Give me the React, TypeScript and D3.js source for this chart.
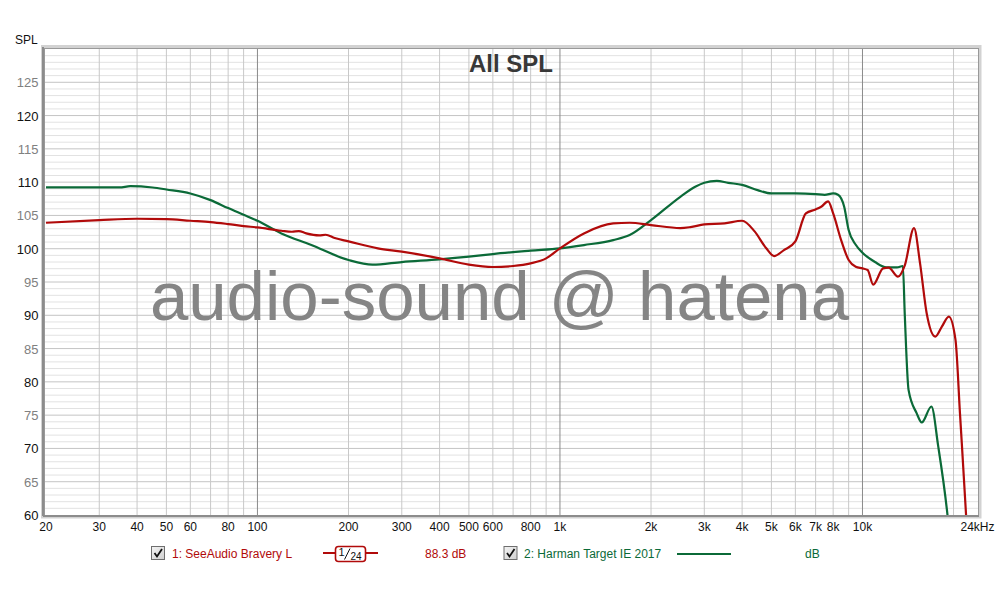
import React from "react";
import * as d3 from "d3";

const redFreq = [20,30,40,50,60,70,80,90,100,120,130,137,145,160,168,180,200,250,300,400,500,600,700,800,900,1000,1200,1500,1700,2000,2500,2700,3000,3500,4000,4400,4800,5100,5500,6000,6500,7000,7300,7700,8000,8500,9000,9500,10000,10400,10850,11700,12200,13100,13800,14800,15500,16300,17400,18300,19300,20300,21000,22000,22300];
const redDb = [103.9,104.3,104.5,104.45,104.2,104.0,103.7,103.4,103.2,102.7,102.55,102.65,102.3,102.0,102.1,101.6,101.1,100.05,99.55,98.55,97.6,97.25,97.4,97.8,98.55,100.05,102.3,103.8,103.9,103.55,103.1,103.25,103.65,103.8,104.2,102.6,100.1,98.9,99.8,101.1,105.3,105.9,106.3,107.1,105.3,101.3,98.3,97.3,97.05,96.8,94.6,97.05,97.15,95.8,97.5,103.1,97.8,90.3,86.8,88.3,89.8,86.3,75.3,60,55];

const greenFreq = [20,35,38,45,50,60,70,80,90,100,120,150,200,240,300,400,500,600,800,1000,1200,1500,1700,2000,2500,2800,3000,3300,3600,4000,4500,5000,6000,7000,7500,8000,8300,8700,9000,9500,10000,11000,12000,13000,13600,13800,14200,15100,15700,16900,17800,19100,19400];
const greenDb = [109.2,109.2,109.4,109.2,108.9,108.3,107.3,106.1,105.1,104.2,102.3,100.6,98.3,97.6,98.0,98.4,98.8,99.2,99.7,100.05,100.55,101.3,102.05,104.3,107.8,109.3,109.9,110.2,109.9,109.6,108.8,108.3,108.3,108.2,108.1,108.3,108.1,106.3,102.8,100.6,99.4,98.0,97.2,97.2,97.4,90,78.8,75.3,73.9,76.3,70.3,60,57];

const xTickValues = [20,30,40,50,60,80,100,200,300,400,500,600,800,1000,2000,3000,4000,5000,6000,7000,8000,10000];
const yTickValues = [60,65,70,75,80,85,90,95,100,105,110,115,120,125];

const RED = "#b10a0a";
const GREEN = "#0b6a38";

export default function App() {
  const L = 45, R = 978, T = 49, B = 515;
  const x = d3.scaleLog().domain([20, 24000]).range([46, 977.5]);
  const y = d3.scaleLinear().domain([60, 130]).range([B, T]);

  const gridX: number[] = [];
  for (let dec = 10; dec <= 10000; dec *= 10) {
    for (let m = 1; m <= 9; m++) {
      const f = dec * m;
      if (f > 20 && f < 24000) gridX.push(f);
    }
  }
  const gridY = d3.range(61, 130, 1);

  const line = d3.line<[number, number]>()
    .x(d => x(d[0]))
    .y(d => y(d[1]))
    .curve(d3.curveMonotoneX);

  const redPts = redFreq.map((f, i) => [f, redDb[i]] as [number, number]);
  const greenPts = greenFreq.map((f, i) => [f, greenDb[i]] as [number, number]);

  const fmt = (v: number) => (v >= 1000 ? `${v / 1000}k` : `${v}`);
  const font = "'Liberation Sans', Arial, sans-serif";

  const Check = ({ cx, cy }: { cx: number; cy: number }) => (
    <g>
      <rect x={cx} y={cy} width={13} height={13} fill="url(#cbg)" stroke="#6e6e6e" strokeWidth={1} />
      <path d={`M${cx + 3} ${cy + 6.5} L${cx + 5.5} ${cy + 10} L${cx + 10.5} ${cy + 2.5}`} fill="none" stroke="#111" strokeWidth={1.8} />
    </g>
  );

  return (
    <svg width={1000} height={600} style={{ display: "block", position: "absolute", left: 0, top: 0, background: "#fff" }} fontFamily={font}>
      <defs>
        <linearGradient id="cbg" x1="0" y1="0" x2="1" y2="1">
          <stop offset="0" stopColor="#f4f4f4" />
          <stop offset="1" stopColor="#cfcfcf" />
        </linearGradient>
        <clipPath id="plotclip">
          <rect x={L} y={T} width={R - L} height={B - T} />
        </clipPath>
      </defs>
      <rect x={0} y={0} width={1000} height={600} fill="#fff" />
      {/* frame */}
      <rect x={42.5} y={46.5} width={R - 42.5 + 2} height={B - 46.5 + 2} fill="none" stroke="#d2d2d2" strokeWidth={3} />
      <rect x={L - 0.5} y={T - 0.5} width={R - L + 1} height={B - T + 1} fill="#fff" stroke="#999" strokeWidth={1} />
      {gridY.map(v => (
        <line key={"gy" + v} x1={L} x2={R} y1={y(v)} y2={y(v)} stroke={v % 5 === 0 ? "#c4c4c4" : "#e2e2e2"} strokeWidth={1} />
      ))}
      {gridX.map(f => (
        <line key={"gx" + f} x1={x(f)} x2={x(f)} y1={T} y2={B}
          stroke={[100, 1000, 10000].includes(f) ? "#8a8a8a" : "#c8c8c8"} strokeWidth={1} />
      ))}
      {/* title */}
      <text x={511} y={72} textAnchor="middle" fontSize={24} fontWeight="bold" fill="#383838">All SPL</text>
      {/* watermark */}
      <text x={499.5} y={320} textAnchor="middle" fontSize={69} fill="#858585">audio-sound @ hatena</text>
      {/* curves */}
      <g clipPath="url(#plotclip)">
        <path d={line(greenPts) ?? ""} fill="none" stroke={GREEN} strokeWidth={2.2} />
        <path d={line(redPts) ?? ""} fill="none" stroke={RED} strokeWidth={2.2} />
      </g>
      <line x1={L - 2} x2={L - 2} y1={T - 2} y2={B + 1} stroke="#8c8c8c" strokeWidth={2} />
      <line x1={L - 2} x2={R + 1} y1={B + 1} y2={B + 1} stroke="#8c8c8c" strokeWidth={2} />
      {/* y axis labels */}
      <text x={15} y={44} fontSize={12} fill="#111">SPL</text>
      {yTickValues.map(v => (
        <text key={"yl" + v} x={38.5} y={y(v) + 5} textAnchor="end" fontSize={13} fill={v % 10 === 0 ? "#111" : "#808080"}>{v}</text>
      ))}
      {/* x axis labels */}
      {xTickValues.map(v => (
        <text key={"xl" + v} x={x(v)} y={531} textAnchor="middle" fontSize={12} fill="#111">{fmt(v)}</text>
      ))}
      <text x={x(24000)} y={531} textAnchor="middle" fontSize={12} fill="#111">24kHz</text>
      {/* legend */}
      <Check cx={151.5} cy={546.5} />
      <text x={172} y={558} fontSize={12} fill={RED}>1: SeeAudio Bravery L</text>
      <line x1={323} x2={378} y1={553} y2={553} stroke={RED} strokeWidth={2} />
      <rect x={335.5} y={546.5} width={30} height={15} rx={3} fill="#fff" stroke={RED} strokeWidth={1.6} />
      <text x={338.5} y={556} fontSize={11} fill="#111">1</text>
      <path d="M344.5 559.5 L350 548.5" stroke="#111" strokeWidth={1} />
      <text x={350.5} y={560} fontSize={10} fill="#111">24</text>
      <text x={425} y={558} fontSize={12} fill={RED}>88.3 dB</text>
      <Check cx={504} cy={546.5} />
      <text x={524} y={558} fontSize={12} fill={GREEN}>2: Harman Target IE 2017</text>
      <line x1={677} x2={731} y1={554} y2={554} stroke={GREEN} strokeWidth={2} />
      <text x={805} y={558} fontSize={12} fill={GREEN}>dB</text>
    </svg>
  );
}
